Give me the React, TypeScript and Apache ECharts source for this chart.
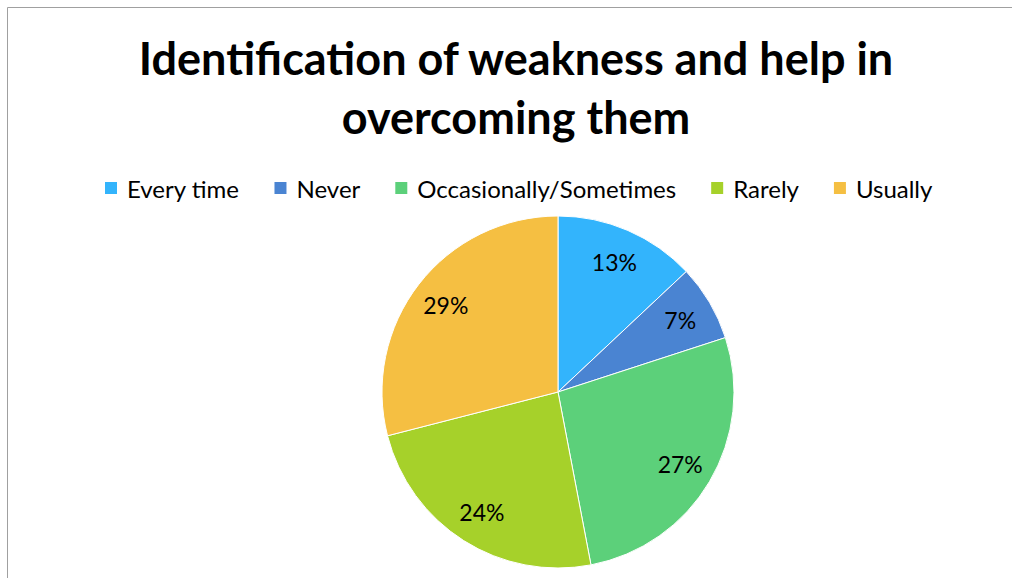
import React, { useEffect, useRef } from "react";
import * as echarts from "echarts";

const categories = ["Every time", "Never", "Occasionally/Sometimes", "Rarely", "Usually"];
const values = [13, 7, 27, 24, 29];
const colors = ["#33B4FC", "#4A84D2", "#5CD07A", "#A6D12A", "#F5BF42"];
const titleText = "Identification of weakness and help in\novercoming them";

export default function App() {
  const ref = useRef<HTMLDivElement>(null);
  useEffect(() => {
    const chart = echarts.init(ref.current!, null, { renderer: "svg" });
    const data = categories.map((name, i) => ({
      name,
      value: values[i],
      itemStyle: { color: colors[i] },
    }));
    chart.setOption({
      animation: false,
      backgroundColor: "#ffffff",
      title: {
        text: titleText,
        left: 511,
        top: 23,
        textAlign: "center",
        textStyle: {
          fontFamily: "Lato",
          fontWeight: "bold",
          fontSize: 45,
          lineHeight: 59,
          color: "#000",
        },
      },
      legend: {
        top: 171,
        left: 98,
        itemWidth: 14,
        itemHeight: 14,
        itemGap: 33,
        icon: "rect",
        textStyle: {
          fontFamily: "Lato",
          fontSize: 24,
          color: "#000",
          padding: [0, 0, 0, 4],
        },
        data: categories,
      },
      graphic: [
        {
          type: "rect",
          shape: { x: 7.5, y: 7.5, width: 1100, height: 700 },
          style: { fill: "none", stroke: "#A0A0A0", lineWidth: 1 },
          z: 100,
        },
      ],
      series: [
        {
          type: "pie",
          center: [558, 392],
          radius: [0, 176],
          startAngle: 90,
          clockwise: true,
          label: { show: false },
          labelLine: { show: false },
          itemStyle: { borderColor: "#fff", borderWidth: 1 },
          data,
        },
        {
          type: "pie",
          center: [558, 392],
          radius: [100, 178],
          startAngle: 90,
          clockwise: true,
          silent: true,
          label: {
            show: true,
            position: "inside",
            formatter: "{d}%",
            fontFamily: "Lato",
            fontSize: 23,
            color: "#000",
          },
          labelLine: { show: false },
          itemStyle: { color: "transparent", borderWidth: 0 },
          data: categories.map((name, i) => ({ name, value: values[i] })),
        },
      ],
    });
    return () => chart.dispose();
  }, []);
  return (
    <div
      ref={ref}
      style={{ position: "fixed", left: 0, top: 0, width: 1012, height: 578 }}
    />
  );
}
